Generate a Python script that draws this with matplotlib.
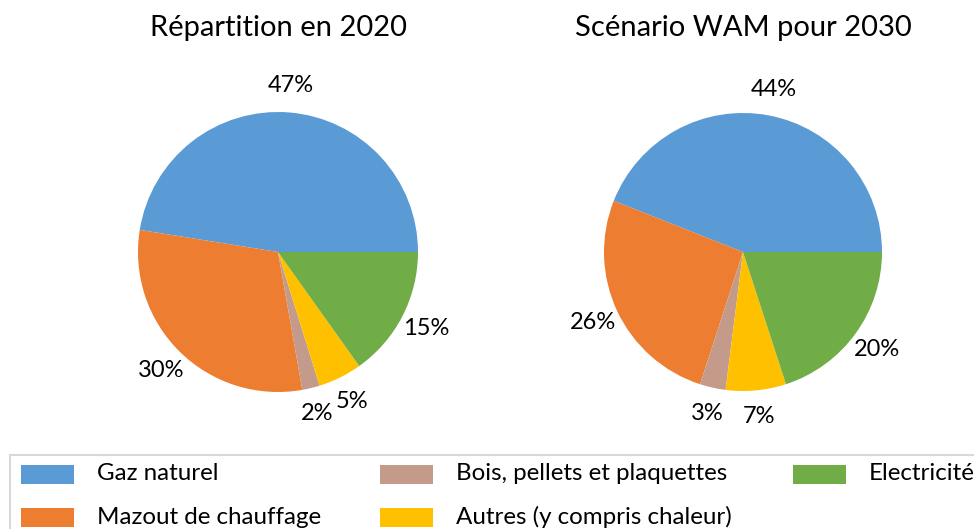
import matplotlib
matplotlib.use("Agg")
import matplotlib.pyplot as plt
from matplotlib.patches import Rectangle

plt.rcParams['font.family'] = ['Lato', 'DejaVu Sans']

categories = ["Gaz naturel", "Mazout de chauffage", "Bois, pellets et plaquettes",
              "Autres (y compris chaleur)", "Electricité"]
values_2020 = [47, 30, 2, 5, 15]
values_2030 = [44, 26, 3, 7, 20]
titles = ["Répartition en 2020", "Scénario WAM pour 2030"]
colors = ["#5B9BD5", "#ED7D31", "#C49A8A", "#FFC000", "#70AD47"]

W, H = 974, 529
fig = plt.figure(figsize=(W / 100, H / 100), dpi=100)

def px_axes(cx, cy, r):
    return fig.add_axes([(cx - r) / W, 1 - (cy + r) / H, 2 * r / W, 2 * r / H])

pies = [(values_2020, 278, 252, 140), (values_2030, 743, 252, 139)]
for (vals, cx, cy, r), title in zip(pies, titles):
    ax = px_axes(cx, cy, r)
    ax.pie(vals, colors=colors, startangle=0, counterclock=True,
           labels=[f"{v}%" for v in vals], labeldistance=1.19,
           textprops=dict(fontsize=17, color="#000000", ha="center", va="center"),
           wedgeprops=dict(linewidth=0))
    ax.set_xlim(-1, 1)
    ax.set_ylim(-1, 1)
    ax.set_aspect("equal")
    ax.axis("off")
    fig.text(cx / W, 1 - 28 / H, title, fontsize=21, ha="center", va="center")

# legend frame (extends beyond the right and bottom edges, as in the reference)
fig.patches.append(Rectangle((10 / W, -0.05), 1.0, (H - 455) / H + 0.05,
                             transform=fig.transFigure, fill=False,
                             edgecolor="#D9D9D9", linewidth=1.5, figure=fig))

legend_cols = [21, 380, 793]
legend_rows = [474, 517]
for i, (lab, col) in enumerate(zip(categories, colors)):
    c, rr = divmod(i, 2)
    x0 = legend_cols[c]
    y0 = legend_rows[rr]
    fig.patches.append(Rectangle((x0 / W, 1 - (y0 + 9.5) / H), 53 / W, 19 / H,
                                 transform=fig.transFigure, facecolor=col,
                                 edgecolor="none", figure=fig))
    fig.text((x0 + 76) / W, 1 - y0 / H, lab, fontsize=17.4, ha="left", va="center")

fig.savefig("out.png", dpi=100)
